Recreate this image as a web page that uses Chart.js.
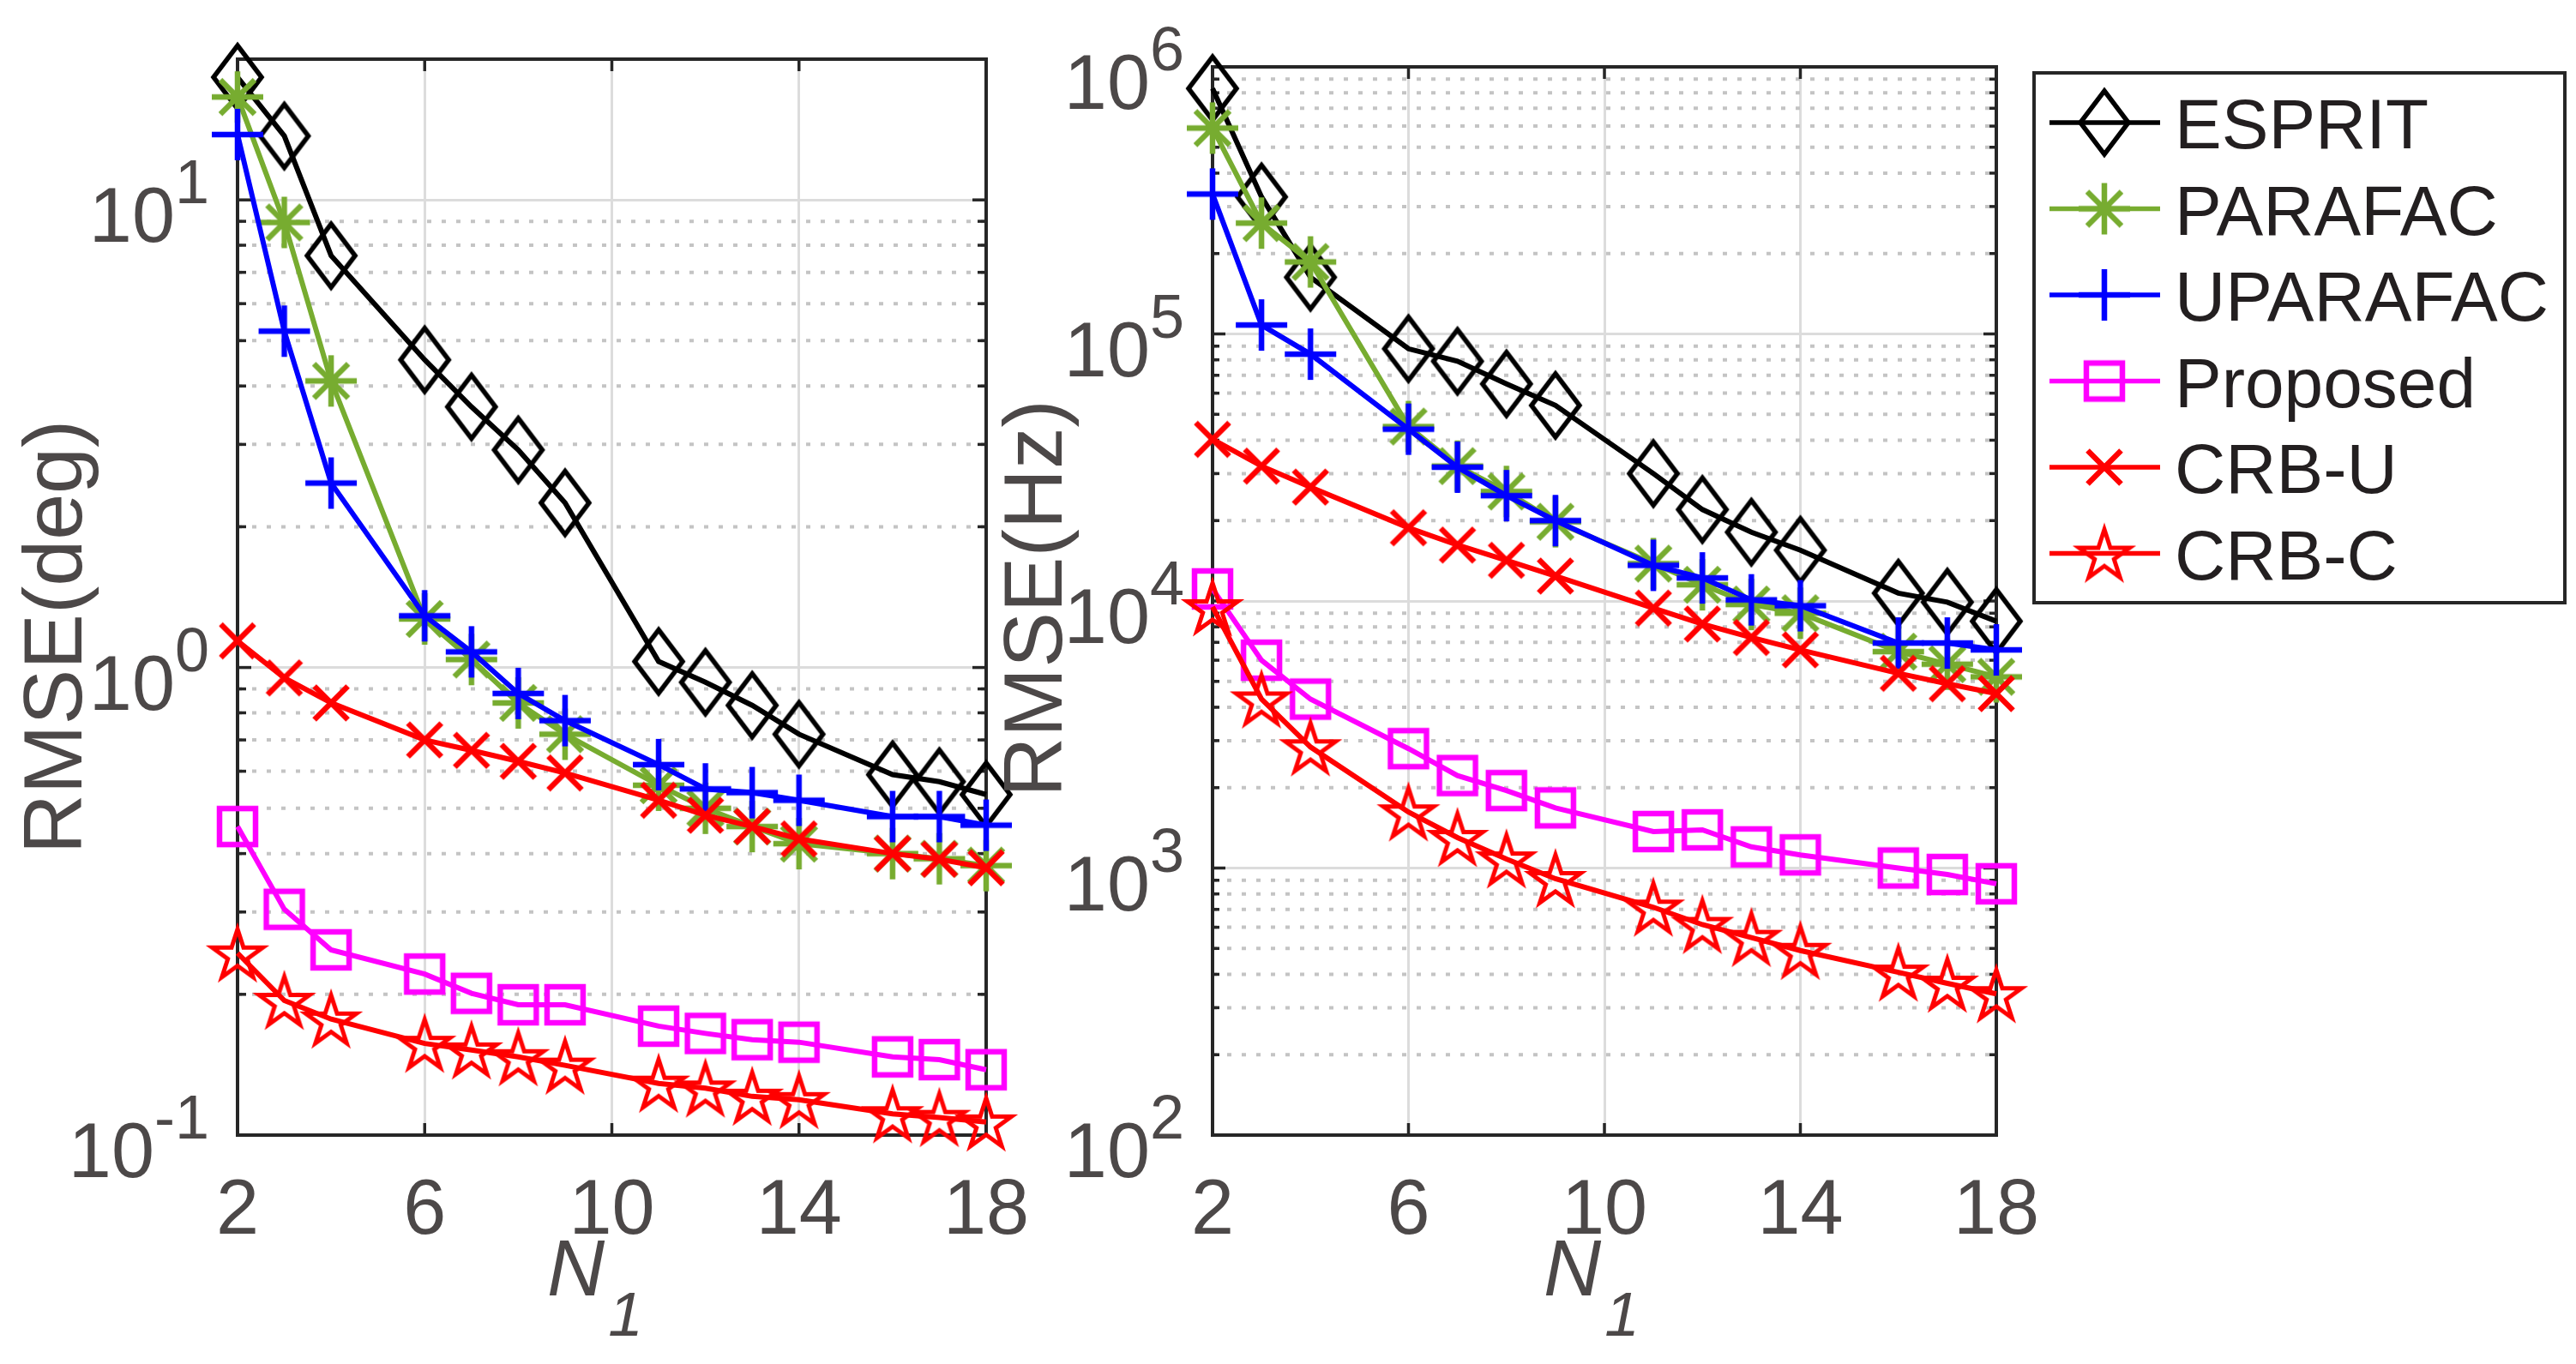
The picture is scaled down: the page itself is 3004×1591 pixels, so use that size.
<!DOCTYPE html>
<html>
<head>
<meta charset="utf-8">
<script src="https://cdn.jsdelivr.net/npm/chart.js@4.4.1/dist/chart.umd.min.js"></script>
<style>
  html, body { margin: 0; padding: 0; background: #fff; }
  #wrap { position: relative; width: 3004px; height: 1591px; background: #fff; }
  #wrap canvas { position: absolute; left: 0; top: 0; }
</style>
</head>
<body>
<div id="wrap">
  <canvas id="angle-chart" width="3004" height="1591"></canvas>
  <canvas id="freq-chart" width="3004" height="1591"></canvas>
</div>
<script>
const nValues = [2, 3, 4, 6, 7, 8, 9, 11, 12, 13, 14, 16, 17, 18];
const xTicks = [2, 6, 10, 14, 18];
const seriesNames = ['ESPRIT', 'PARAFAC', 'UPARAFAC', 'Proposed', 'CRB-U', 'CRB-C'];
const seriesColors = ['#000000', '#77ac30', '#0000ff', '#ff00ff', '#ff0000', '#ff0000'];
const markerTypes = ['diamond', 'asterisk', 'plus', 'square', 'cross', 'star'];

// RMSE of the angle estimate (deg)
const angleEsprit = [18.3, 13.7, 7.6, 4.55, 3.61, 2.92, 2.25, 1.03, 0.93, 0.83, 0.72, 0.59, 0.57, 0.535];
const angleParafac = [16.6, 8.95, 4.1, 1.27, 1.04, 0.84, 0.72, 0.56, 0.50, 0.457, 0.42, 0.40, 0.39, 0.377];
const angleUparafac = [13.8, 5.24, 2.48, 1.29, 1.08, 0.88, 0.77, 0.62, 0.55, 0.54, 0.52, 0.48, 0.48, 0.46];
const angleProposed = [0.457, 0.304, 0.249, 0.221, 0.201, 0.19, 0.19, 0.171, 0.165, 0.16, 0.158, 0.147, 0.145, 0.138];
const angleCrbU = [1.14, 0.95, 0.84, 0.70, 0.665, 0.63, 0.595, 0.52, 0.483, 0.457, 0.43, 0.40, 0.389, 0.373];
const angleCrbC = [0.245, 0.194, 0.177, 0.157, 0.152, 0.147, 0.141, 0.129, 0.126, 0.121, 0.119, 0.111, 0.109, 0.1066];

// RMSE of the frequency estimate (Hz)
const freqEsprit = [8.3e5, 3.26e5, 1.63e5, 8.8e4, 7.9e4, 6.5e4, 5.4e4, 3.0e4, 2.2e4, 1.81e4, 1.55e4, 1.07e4, 9.9e3, 8.4e3];
const freqParafac = [5.9e5, 2.6e5, 1.86e5, 4.5e4, 3.2e4, 2.57e4, 1.98e4, 1.38e4, 1.15e4, 9.7e3, 9.0e3, 6.46e3, 5.8e3, 5.2e3];
const freqUparafac = [3.34e5, 1.08e5, 8.4e4, 4.4e4, 3.17e4, 2.48e4, 2.0e4, 1.36e4, 1.22e4, 1.01e4, 9.6e3, 6.96e3, 6.96e3, 6.56e3];
const freqProposed = [1.11e4, 6.0e3, 4.29e3, 2.8e3, 2.22e3, 1.95e3, 1.68e3, 1.37e3, 1.39e3, 1.2e3, 1.12e3, 1.0e3, 946, 873];
const freqCrbU = [4.03e4, 3.2e4, 2.67e4, 1.88e4, 1.62e4, 1.42e4, 1.24e4, 9.4e3, 8.2e3, 7.3e3, 6.56e3, 5.36e3, 4.9e3, 4.5e3];
const freqCrbC = [9.5e3, 4.29e3, 2.84e3, 1.62e3, 1.30e3, 1.08e3, 912, 713, 614, 549, 491, 407, 370, 338];

const angleTickExps = [-1, 0, 1];
const freqTickExps = [2, 3, 4, 5, 6];

const FONT = "'Liberation Sans', Arial, Helvetica, sans-serif";
const TEXT_GREY = '#4c4848';
const AXIS_DARK = '#262626';

// marker images, drawn once and handed to Chart.js as pointStyle
function makeMarker(type, color) {
  const c = document.createElement('canvas');
  const size = { diamond: [76, 96], asterisk: [70, 70], plus: [70, 70], square: [60, 60], cross: [58, 58], star: [84, 84] }[type];
  c.width = size[0];
  c.height = size[1];
  const g = c.getContext('2d');
  g.translate(c.width / 2, c.height / 2);
  g.strokeStyle = color;
  g.lineJoin = 'miter';
  g.miterLimit = 10;
  g.beginPath();
  if (type === 'diamond') {
    g.lineWidth = 5.5;
    g.moveTo(0, -37); g.lineTo(28, 0); g.lineTo(0, 37); g.lineTo(-28, 0); g.closePath();
  } else if (type === 'asterisk') {
    g.lineWidth = 6.5;
    g.moveTo(-30, 0); g.lineTo(30, 0);
    g.moveTo(0, -30); g.lineTo(0, 30);
    g.moveTo(-20, -20); g.lineTo(20, 20);
    g.moveTo(-20, 20); g.lineTo(20, -20);
  } else if (type === 'plus') {
    g.lineWidth = 6.5;
    g.moveTo(-30, 0); g.lineTo(30, 0);
    g.moveTo(0, -30); g.lineTo(0, 30);
  } else if (type === 'square') {
    g.lineWidth = 6.5;
    g.rect(-21, -21, 42, 42);
  } else if (type === 'cross') {
    g.lineWidth = 6.5;
    g.moveTo(-19.5, -19.5); g.lineTo(19.5, 19.5);
    g.moveTo(-19.5, 19.5); g.lineTo(19.5, -19.5);
  } else if (type === 'star') {
    g.lineWidth = 5;
    const R = 31, r = R * 0.382;
    for (let k = 0; k < 10; k++) {
      const rad = k % 2 === 0 ? R : r;
      const ang = -Math.PI / 2 + k * Math.PI / 5;
      const px = rad * Math.cos(ang), py = rad * Math.sin(ang) + 3;
      if (k === 0) g.moveTo(px, py); else g.lineTo(px, py);
    }
    g.closePath();
  }
  g.stroke();
  return c;
}

const markers = markerTypes.map((t, i) => makeMarker(t, seriesColors[i]));

function buildDatasets(seriesList) {
  return seriesList.map((vals, i) => ({
    label: seriesNames[i],
    data: nValues.map((n, j) => ({ x: n, y: vals[j] })),
    borderColor: seriesColors[i],
    backgroundColor: seriesColors[i],
    borderWidth: 6,
    pointStyle: markers[i],
    pointRadius: 30,
    pointHoverRadius: 30,
    pointBorderWidth: 0,
    tension: 0,
    fill: false,
    clip: false,
    order: seriesList.length - i
  }));
}

function minorValues(min, max) {
  const out = [];
  for (let e = Math.floor(Math.log10(min)); e <= Math.ceil(Math.log10(max)); e++) {
    for (let k = 2; k <= 9; k++) {
      const v = k * Math.pow(10, e);
      if (v > min * 1.0001 && v < max * 0.9999) out.push(v);
    }
  }
  return out;
}

function seg(ctx, x1, y1, x2, y2) {
  ctx.beginPath();
  ctx.moveTo(x1, y1);
  ctx.lineTo(x2, y2);
  ctx.stroke();
}

function drawPowerLabel(ctx, xRight, yGrid, exp) {
  const sup = String(exp);
  ctx.fillStyle = TEXT_GREY;
  ctx.textAlign = 'right';
  ctx.textBaseline = 'alphabetic';
  ctx.font = '72px ' + FONT;
  const supW = ctx.measureText(sup).width;
  ctx.fillText(sup, xRight, yGrid + 4);
  ctx.font = '90px ' + FONT;
  ctx.fillText('10', xRight - supW, yGrid + 49);
}

function drawN1(ctx, xLeft, baseY) {
  ctx.fillStyle = TEXT_GREY;
  ctx.textAlign = 'left';
  ctx.textBaseline = 'alphabetic';
  ctx.font = 'italic 93px ' + FONT;
  ctx.fillText('N', xLeft, baseY);
  const w = ctx.measureText('N').width;
  ctx.font = 'italic 73px ' + FONT;
  ctx.fillText('1', xLeft + w + 4, baseY + 47);
}

function drawYTitle(ctx, text, xBase, yCenter) {
  ctx.save();
  ctx.translate(xBase, yCenter);
  ctx.rotate(-Math.PI / 2);
  ctx.fillStyle = TEXT_GREY;
  ctx.font = '97px ' + FONT;
  ctx.textAlign = 'center';
  ctx.textBaseline = 'alphabetic';
  ctx.fillText(text, 0, 0);
  ctx.restore();
}

function axesPlugin(cfg) {
  return {
    id: 'matlabAxes',
    beforeDatasetsDraw(chart) {
      const { ctx, chartArea: a } = chart;
      const x = chart.scales.x, y = chart.scales.y;
      ctx.save();
      // dotted minor grid
      ctx.strokeStyle = '#c4c4c4';
      ctx.lineWidth = 4;
      ctx.setLineDash([5, 12]);
      const minors = minorValues(y.min, y.max);
      minors.forEach(v => {
        const py = y.getPixelForValue(v);
        seg(ctx, a.left, py, a.right, py);
      });
      ctx.setLineDash([]);
      // inward tick marks
      ctx.strokeStyle = AXIS_DARK;
      ctx.lineWidth = 3.5;
      xTicks.forEach(v => {
        const px = x.getPixelForValue(v);
        seg(ctx, px, a.bottom, px, a.bottom - 14);
        seg(ctx, px, a.top, px, a.top + 14);
      });
      cfg.exps.forEach(e => {
        const py = y.getPixelForValue(Math.pow(10, e));
        seg(ctx, a.left, py, a.left + cfg.majorLen, py);
        seg(ctx, a.right, py, a.right - cfg.majorLen, py);
      });
      minors.forEach(v => {
        const py = y.getPixelForValue(v);
        seg(ctx, a.left, py, a.left + cfg.minorLen, py);
        seg(ctx, a.right, py, a.right - cfg.minorLen, py);
      });
      // box
      ctx.lineWidth = 4;
      ctx.strokeRect(a.left, a.top, a.right - a.left, a.bottom - a.top);
      ctx.restore();
    },
    afterDraw(chart) {
      const { ctx, chartArea: a } = chart;
      const x = chart.scales.x, y = chart.scales.y;
      ctx.save();
      // x tick labels
      ctx.fillStyle = TEXT_GREY;
      ctx.font = '90px ' + FONT;
      ctx.textAlign = 'center';
      ctx.textBaseline = 'alphabetic';
      xTicks.forEach(v => ctx.fillText(String(v), x.getPixelForValue(v), a.bottom + 115));
      // y tick labels as 10^n
      cfg.exps.forEach(e => drawPowerLabel(ctx, a.left - 33, y.getPixelForValue(Math.pow(10, e)), e));
      drawN1(ctx, cfg.nLeft, a.bottom + 187);
      drawYTitle(ctx, cfg.yTitle, cfg.titleX, cfg.titleY);
      if (cfg.legend) drawLegend(chart);
      ctx.restore();
    }
  };
}

function drawLegend(chart) {
  const ctx = chart.ctx;
  const box = { left: 2372, top: 85, right: 2991, bottom: 703 };
  ctx.save();
  ctx.fillStyle = '#ffffff';
  ctx.fillRect(box.left, box.top, box.right - box.left, box.bottom - box.top);
  ctx.strokeStyle = AXIS_DARK;
  ctx.lineWidth = 4;
  ctx.strokeRect(box.left, box.top, box.right - box.left, box.bottom - box.top);
  chart.data.datasets.forEach((ds, i) => {
    const cy = 143 + i * 100.5;
    ctx.strokeStyle = ds.borderColor;
    ctx.lineWidth = 5.5;
    seg(ctx, 2390, cy, 2519, cy);
    const m = ds.pointStyle;
    ctx.drawImage(m, 2454 - m.width / 2, cy - m.height / 2);
    ctx.fillStyle = '#231f20';
    ctx.font = '82px ' + FONT;
    ctx.textAlign = 'left';
    ctx.textBaseline = 'alphabetic';
    ctx.fillText(ds.label, 2536, cy + 30);
  });
  ctx.restore();
}

function makeConfig(seriesList, yMin, yMax, exps, padding) {
  return {
    type: 'line',
    data: { datasets: buildDatasets(seriesList) },
    options: {
      responsive: false,
      devicePixelRatio: 1,
      animation: false,
      events: [],
      layout: { padding: padding },
      plugins: { legend: { display: false }, tooltip: { enabled: false } },
      scales: {
        x: {
          type: 'linear',
          min: 2,
          max: 18,
          afterBuildTicks: (scale) => { scale.ticks = xTicks.map(v => ({ value: v })); },
          ticks: { display: false },
          grid: { color: '#dcdcdc', lineWidth: 3, drawTicks: false },
          border: { display: false }
        },
        y: {
          type: 'logarithmic',
          min: yMin,
          max: yMax,
          afterBuildTicks: (scale) => { scale.ticks = exps.map(e => ({ value: Math.pow(10, e) })); },
          ticks: { display: false },
          grid: { color: '#dcdcdc', lineWidth: 3, drawTicks: false },
          border: { display: false }
        }
      }
    }
  };
}

const angleConfig = makeConfig(
  [angleEsprit, angleParafac, angleUparafac, angleProposed, angleCrbU, angleCrbC],
  0.1, 20, angleTickExps,
  { left: 277, right: 3004 - 1150, top: 69, bottom: 1591 - 1324 }
);
angleConfig.plugins = [axesPlugin({ exps: angleTickExps, majorLen: 16, minorLen: 10, nLeft: 638, yTitle: 'RMSE(deg)', titleX: 95, titleY: 743 })];

const freqConfig = makeConfig(
  [freqEsprit, freqParafac, freqUparafac, freqProposed, freqCrbU, freqCrbC],
  100, 1e6, freqTickExps,
  { left: 1414, right: 3004 - 2328, top: 78, bottom: 1591 - 1324 }
);
freqConfig.plugins = [axesPlugin({ exps: freqTickExps, majorLen: 15, minorLen: 8, nLeft: 1800, yTitle: 'RMSE(Hz)', titleX: 1238, titleY: 698, legend: true })];

const angleChart = new Chart(document.getElementById('angle-chart'), angleConfig);
const freqChart = new Chart(document.getElementById('freq-chart'), freqConfig);
</script>
</body>
</html>
